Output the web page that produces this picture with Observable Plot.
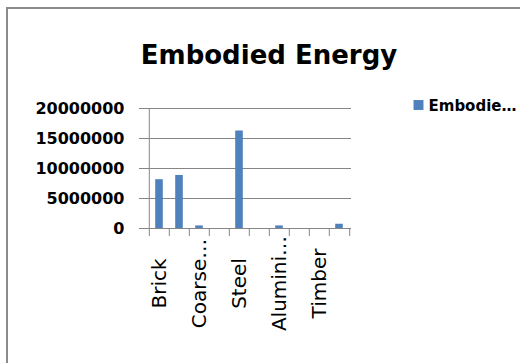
<!DOCTYPE html>
<html>
<head>
<meta charset="utf-8">
<script src="https://cdn.jsdelivr.net/npm/d3@7"></script>
<script src="https://cdn.jsdelivr.net/npm/@observablehq/plot@0.6"></script>
<style>
  html, body { margin: 0; padding: 0; background: #fff; overflow: hidden; }
  #wrap { position: relative; width: 520px; height: 363px; overflow: hidden; }
  #border {
    position: absolute; left: 6px; top: 7px; width: 600px; height: 420px;
    border: 2px solid #8b8b8b; pointer-events: none; z-index: 2;
  }
  #chart { position: absolute; left: 0; top: 0; }
</style>
</head>
<body>
<div id="wrap"><div id="chart"></div><div id="border"></div></div>
<script>
// Embodied energy per material
const categories = ["Brick", "Cement", "Coarse Aggregate", "Fine Aggregate", "Steel",
                    "Glass", "Aluminium", "Paint", "Timber", "Tiles"];
const energy = [8130000, 8840000, 430000, 0, 16250000, 0, 430000, 0, 0, 710000];
const tickLabels = ["Brick", "", "Coarse…", "", "Steel", "", "Alumini…", "", "Timber", ""];
const yTicks = [0, 5000000, 10000000, 15000000, 20000000];
const title = "Embodied Energy";
const legendLabel = "Embodie…";

const rows = categories.map((c, i) => ({category: c, energy: energy[i], label: tickLabels[i]}));

const W = 520, H = 363;
const mL = 147, mR = 169, mT = 108, mB = 135;
const half = (W - mL - mR) / categories.length / 2;
const barColor = "#4F81BD";
const lineColor = "#868686";

const chart = Plot.plot({
  width: W, height: H,
  marginLeft: mL, marginRight: mR, marginTop: mT, marginBottom: mB,
  style: {fontFamily: "'DejaVu Sans', sans-serif", background: "transparent", color: "black"},
  x: {domain: categories, padding: 0, axis: null},
  y: {domain: [0, 20000000], axis: null},
  marks: [
    Plot.gridY(yTicks, {stroke: lineColor, strokeOpacity: 1}),
    Plot.axisY(yTicks, {
      tickSize: 8, tickPadding: 15, label: null,
      tickFormat: d => String(d),
      stroke: lineColor, fill: "black",
      fontSize: 16, fontWeight: "bold"
    }),
    // category boundary ticks below the baseline
    Plot.axisX(categories, {tickSize: 8, dx: -half, tickFormat: () => "", label: null, stroke: lineColor}),
    Plot.axisX([categories[categories.length - 1]], {tickSize: 8, dx: half, tickFormat: () => "", label: null, stroke: lineColor}),
    Plot.ruleX([categories[0]], {dx: -half, stroke: lineColor}),
    Plot.barY(rows, {x: "category", y: "energy", fill: barColor, insetLeft: 6.2, insetRight: 6.2}),
    Plot.ruleY([0], {stroke: lineColor}),
    Plot.text(rows, {
      x: "category", text: "label", frameAnchor: "bottom",
      rotate: -90, dy: 55, textAnchor: "middle", lineAnchor: "middle",
      fontSize: 20, fill: "black"
    }),
    Plot.text([title], {
      text: d => d, frameAnchor: "top", dx: 19.5, dy: -44.5, lineAnchor: "bottom",
      fontSize: 26, fontWeight: "bold", fill: "black"
    }),
    Plot.dot([legendLabel], {
      frameAnchor: "top-right", dx: 67, dy: -3.5, symbol: "square", r: 5.6,
      fill: barColor, stroke: null
    }),
    Plot.text([legendLabel], {
      text: d => d, frameAnchor: "top-right", dx: 77, dy: 2, textAnchor: "start",
      lineAnchor: "bottom", fontSize: 15, fontWeight: "bold", fill: "black"
    })
  ]
});
document.getElementById("chart").appendChild(chart);
</script>
</body>
</html>
